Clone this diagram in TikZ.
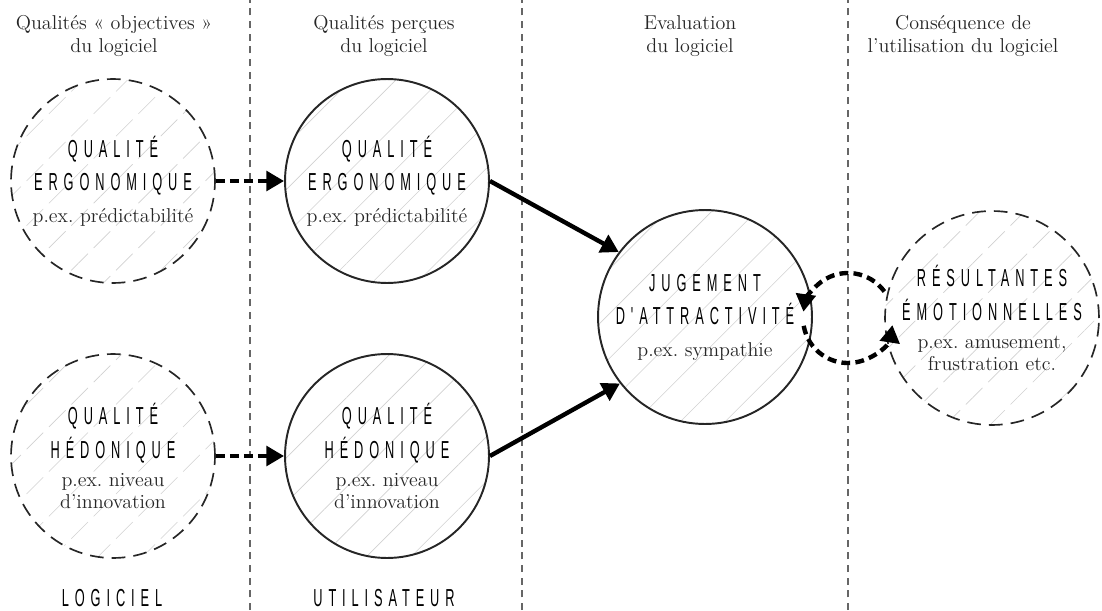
\documentclass[tikz,border=0pt]{standalone}
\usepackage{fontspec}
\usetikzlibrary{arrows.meta,patterns.meta}
\newfontfamily\capsfont[FakeStretch=0.52,LetterSpace=24]{Liberation Sans}
\newcommand\bodytext{\rmfamily\fontsize{11.4}{12.8}\selectfont\frenchspacing\color{black!85}}

\begin{document}
\begin{tikzpicture}
[x=0.02cm,y=0.02cm,
  circleDecorate/.style={shape=circle,inner sep=0pt,align=center,draw=black!85,
    font=\capsfont\fontsize{14}{19}\selectfont,
    pattern={Lines[angle=45,distance=18pt,line width=0.35pt]},pattern color=black!18},%
  solidCircle/.style={circleDecorate,line width=1.1pt},%
  dashedCircle/.style={circleDecorate,line width=0.95pt,dash pattern=on 7.8pt off 4.6pt},%
  headDecorate/.style={align=center,font=\bodytext},%
  footDecorate/.style={font=\capsfont\fontsize{14}{19}\selectfont},%
  sepDecorate/.style={black!60,line width=0.9pt,dash pattern=on 4pt off 3.2pt},%
  arrowDecorate/.style={-{Triangle[length=10pt,width=11pt]},line width=2.5pt},%
  dashArrow/.style={arrowDecorate,dash pattern=on 5pt off 3pt}]
\useasboundingbox (0,0) rectangle (1102,610);
%% column separators
\foreach \xpos in {250,522,848}
{
  \draw[sepDecorate] (\xpos,0) -- (\xpos,610);
}
%% column headings
\node (objHead) at (114,574) [headDecorate] {Qualités « objectives »\\du logiciel};
\node (percHead) at (384,574) [headDecorate] {Qualités perçues\\du logiciel};
\node (evalHead) at (690,574) [headDecorate] {Evaluation\\du logiciel};
\node (consHead) at (963,574) [headDecorate] {Conséquence de\\l'utilisation du logiciel};
%% qualities
\node (objErgo) at (113,429) [dashedCircle,minimum size=4.08cm]
  {QUALITÉ\\ERGONOMIQUE\\[-1pt]\bodytext p.ex. prédictabilité};
\node (percErgo) at (387,429) [solidCircle,minimum size=4.08cm]
  {QUALITÉ\\ERGONOMIQUE\\[-1pt]\bodytext p.ex. prédictabilité};
\node (objHedo) at (113,154) [dashedCircle,minimum size=4.08cm]
  {QUALITÉ\\HÉDONIQUE\\[-3pt]\bodytext p.ex. niveau\\[-6.5pt]\bodytext d'innovation};
\node (percHedo) at (387,154) [solidCircle,minimum size=4.08cm]
  {QUALITÉ\\HÉDONIQUE\\[-3pt]\bodytext p.ex. niveau\\[-6.5pt]\bodytext d'innovation};
%% evaluation and consequences
\node (judge) at (705,293) [solidCircle,minimum size=4.28cm]
  {JUGEMENT\\D'ATTRACTIVITÉ\\[-1pt]\bodytext p.ex. sympathie};
\node (emo) at (992,292) [dashedCircle,minimum size=4.28cm]
  {RÉSULTANTES\\ÉMOTIONNELLES\\[-3pt]\bodytext p.ex. amusement,\\[-6.5pt]\bodytext frustration etc.};
%% footers
\node (softLbl) at (112,12) [footDecorate] {LOGICIEL};
\node (userLbl) at (384,12) [footDecorate] {UTILISATEUR};
%% connectors
\draw[dashArrow] (objErgo) -- (percErgo);
\draw[dashArrow] (objHedo) -- (percHedo);
\draw[arrowDecorate] (percErgo.east) -- (judge.143);
\draw[arrowDecorate] (percHedo.east) -- (judge.218);
\coordinate (cycle) at (848,292);
\draw[dashArrow] ([shift={(36:45)}]cycle) arc[start angle=36,end angle=172,radius=45];
\draw[dashArrow] ([shift={(190:45)}]cycle) arc[start angle=190,end angle=351,radius=45];
\end{tikzpicture}
\end{document}
